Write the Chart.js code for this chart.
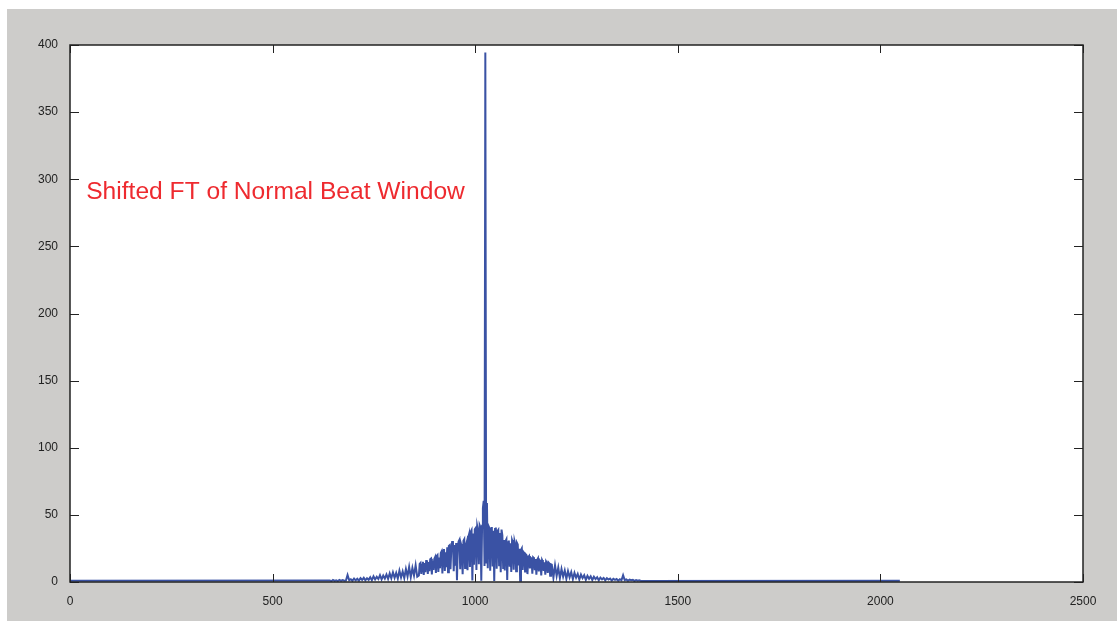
<!DOCTYPE html>
<html>
<head>
<meta charset="utf-8">
<script src="https://cdn.jsdelivr.net/npm/chart.js@4.4.0/dist/chart.umd.min.js"></script>
<style>
  html, body { margin: 0; padding: 0; background: #fff; }
  #frame { position: absolute; left: 7px; top: 9px; width: 1110px; height: 612px; background: #cdccca; }
  #plot { position: absolute; left: 0; top: 0; }
</style>
</head>
<body>
<div id="frame"></div>
<canvas id="plot" width="1117" height="624"></canvas>
<script>
// FFT bins 1..2048, shifted so DC sits at bin 1025
const firstBin = 1;
const lastBin = 2048;
const baseLevel = 0.9;

// left tail, every 4th bin 641..857
const leftStart = 641;
const leftMagnitude = [
  1.2, 0.6, 1.5, 0.8, 1.3, 0.7, 1.6, 0.9, 1.4, 1.0,
  1.1, 5.2, 1.3,
  2.1, 0.9, 2.6, 1.2, 2.4, 1.0, 2.9, 1.5, 3.1, 1.3, 2.8, 1.6,
  3.6, 1.4, 4.2, 1.9, 3.9, 2.2, 5.1, 2.0, 4.8, 2.5, 5.6,
  2.3, 6.4, 2.8, 7.2, 3.1, 6.8, 2.6, 8.5, 3.4, 7.9,
  3.0, 9.6, 4.1, 11.2, 3.6, 10.4, 4.8, 12.5, 3.9
];
// core, every 2nd bin 861..1189 (bin 1025 is the DC spike)
const coreStart = 861;
const coreMagnitude = [
  4.8, 13.5, 14.2, 6.1, 12.8, 15.0, 5.2, 14.1, 7.4, 15.6,
  16.2, 6.0, 14.8, 8.1, 16.9, 17.4, 5.6, 15.8, 9.0, 17.2,
  18.5, 6.8, 19.4, 20.1, 7.5, 18.2, 10.2, 21.6, 22.8, 6.4,
  23.5, 24.6, 8.3, 22.1, 11.0, 25.9, 7.2, 26.8, 27.4, 9.6,
  24.2, 29.8, 30.6, 8.0, 27.5, 12.1, 29.1, 1.4, 25.4, 30.2,
  31.4, 9.5, 28.3, 26.1, 5.8, 30.8, 31.9, 10.4, 27.2, 29.6,
  8.7, 33.5, 35.8, 11.2, 37.4, 38.6, 1.2, 36.1, 12.8, 39.2,
  40.1, 9.0, 41.5, 38.4, 13.2, 42.3, 40.8, 1.0, 41.9, 55.0,
  60.5, 12.0, 394.5, 14.5, 58.8, 10.2, 41.6, 40.2, 8.4, 39.8,
  41.0, 11.5, 38.2, 0.8, 39.5, 40.6, 9.8, 37.9, 38.8, 12.4,
  36.5, 7.2, 39.0, 34.8, 10.5, 31.2, 8.6, 30.5, 31.8, 1.5,
  29.6, 30.9, 11.4, 28.8, 7.5, 31.2, 29.4, 9.2, 30.5, 27.9,
  8.1, 29.2, 28.0, 12.3, 24.8, 1.0, 23.9, 25.1, 9.0, 22.4,
  21.6, 7.8, 20.5, 19.8, 5.9, 18.6, 19.4, 10.1, 18.0, 17.5,
  6.2, 18.4, 17.8, 8.8, 17.1, 5.4, 16.5, 17.6, 7.9, 16.2,
  15.8, 4.9, 16.4, 15.1, 8.2, 14.6, 5.5, 15.2, 14.1, 6.8,
  14.5, 13.8, 4.6, 13.2, 12.9
];
// right tail, every 4th bin 1193..1409
const rightStart = 1193;
const rightMagnitude = [
  3.2, 12.4, 4.6, 10.8, 2.9, 9.7, 4.0, 8.6, 2.4, 8.1,
  3.5, 7.4, 2.1, 6.8, 3.2, 6.0, 1.8, 5.6, 2.9, 5.1,
  1.6, 4.6, 2.4, 4.2, 1.5, 3.9, 2.2, 3.6, 1.3, 3.3,
  2.0, 3.0, 1.2, 2.8, 1.8, 2.6, 1.1, 2.4, 1.6, 2.2,
  1.0, 2.1, 1.3, 5.0, 1.4, 1.9, 0.9, 1.8, 1.3, 1.6,
  0.8, 1.4, 0.9, 1.2, 0.8
];
const xTicks = [0, 500, 1000, 1500, 2000, 2500];
const yTicks = [0, 50, 100, 150, 200, 250, 300, 350, 400];
const noteText = 'Shifted FT of Normal Beat Window';
const notePos = { x: 40, y: 290 };

const points = [{ x: firstBin, y: baseLevel }];
leftMagnitude.forEach((v, i) => points.push({ x: leftStart + i * 4, y: v }));
coreMagnitude.forEach((v, i) => points.push({ x: coreStart + i * 2, y: v }));
rightMagnitude.forEach((v, i) => points.push({ x: rightStart + i * 4, y: v }));
points.push({ x: lastBin, y: baseLevel });

const tickFont = { family: 'Arial, "Liberation Sans"', size: 12 };

const whiteAxes = {
  id: 'whiteAxes',
  beforeDraw(chart) {
    const { ctx, chartArea: a } = chart;
    ctx.save();
    ctx.fillStyle = '#fff';
    ctx.fillRect(a.left, a.top, a.right - a.left, a.bottom - a.top);
    ctx.restore();
  }
};

const matlabBox = {
  id: 'matlabBox',
  afterDraw(chart) {
    const { ctx, chartArea: a, scales } = chart;
    const x = scales.x, y = scales.y;
    ctx.save();
    ctx.strokeStyle = '#222';
    ctx.lineWidth = 1;
    ctx.beginPath();
    xTicks.forEach(t => {
      const px = Math.round(x.getPixelForValue(t)) + 0.5;
      ctx.moveTo(px, a.bottom); ctx.lineTo(px, a.bottom - 8);
      ctx.moveTo(px, a.top); ctx.lineTo(px, a.top + 8);
    });
    yTicks.forEach(t => {
      const py = Math.round(y.getPixelForValue(t)) + 0.5;
      ctx.moveTo(a.left, py); ctx.lineTo(a.left + 9, py);
      ctx.moveTo(a.right, py); ctx.lineTo(a.right - 9, py);
    });
    ctx.stroke();
    ctx.lineWidth = 1.5;
    ctx.strokeRect(a.left, a.top, a.right - a.left, a.bottom - a.top);
    // label inside the axes
    ctx.fillStyle = '#ee2a2f';
    ctx.font = '24.6px Arial, "Liberation Sans"';
    ctx.textBaseline = 'middle';
    ctx.fillText(noteText, x.getPixelForValue(notePos.x), y.getPixelForValue(notePos.y));
    ctx.restore();
  }
};

new Chart(document.getElementById('plot'), {
  type: 'line',
  data: {
    datasets: [{
      data: points,
      borderColor: '#3a52a4',
      borderWidth: 2,
      pointRadius: 0,
      tension: 0,
      fill: false
    }]
  },
  options: {
    responsive: false,
    animation: false,
    devicePixelRatio: 1,
    layout: { padding: { left: 0, top: 45, right: 34, bottom: 0 } },
    plugins: { legend: { display: false }, tooltip: { enabled: false } },
    scales: {
      x: {
        type: 'linear',
        min: 0, max: 2500,
        afterBuildTicks: s => { s.ticks = xTicks.map(v => ({ value: v })); },
        afterFit: s => { s.height = 42; },
        grid: { display: false },
        border: { display: false },
        ticks: { color: '#222', font: tickFont, padding: 4, maxRotation: 0, callback: v => String(v) }
      },
      y: {
        min: 0, max: 400,
        afterBuildTicks: s => { s.ticks = yTicks.map(v => ({ value: v })); },
        afterFit: s => { s.width = 70; },
        grid: { display: false },
        border: { display: false },
        ticks: { color: '#222', font: tickFont, padding: 4, callback: v => String(v) }
      }
    }
  },
  plugins: [whiteAxes, matlabBox]
});
</script>
</body>
</html>
